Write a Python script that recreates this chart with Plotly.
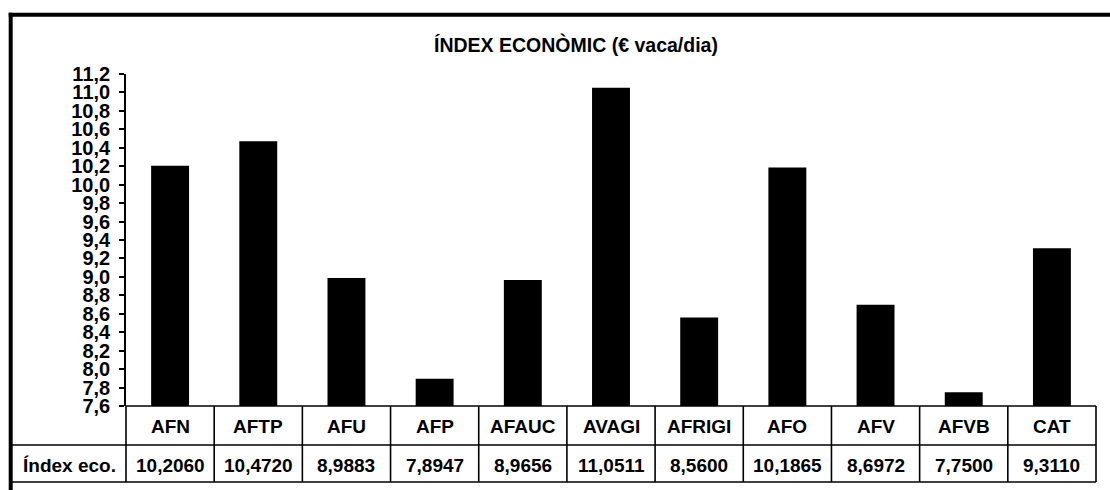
import plotly.graph_objects as go

categories = ["AFN", "AFTP", "AFU", "AFP", "AFAUC", "AVAGI", "AFRIGI", "AFO", "AFV", "AFVB", "CAT"]
values = [10.2060, 10.4720, 8.9883, 7.8947, 8.9656, 11.0511, 8.5600, 10.1865, 8.6972, 7.7500, 9.3110]
row_label = "Índex eco."
title_text = "ÍNDEX ECONÒMIC (€ vaca/dia)"
y_range = [7.6, 11.2]
y_step = 0.2

W, H = 1110, 490
L, R, T, B = 126, 1096, 74, 406  # plot area in pixels
FONT = "Liberation Sans, Arial, sans-serif"


def px_x(px):
    return (px - L) / (R - L)


def px_y(py):
    return (B - py) / (B - T)


fig = go.Figure()
fig.add_trace(go.Bar(
    x=categories, y=values, width=0.43,
    marker=dict(color="black", line=dict(width=0)),
    hoverinfo="skip",
))

shapes = []
lw = 1.6
n = len(categories)
# table horizontal lines
shapes.append(dict(type="line", xref="paper", yref="paper", x0=0, x1=1,
                   y0=px_y(406), y1=px_y(406), line=dict(color="black", width=lw)))
for yy in (445, 482):
    shapes.append(dict(type="line", xref="paper", yref="paper", x0=px_x(10.7), x1=1,
                       y0=px_y(yy), y1=px_y(yy), line=dict(color="black", width=lw)))
# table vertical lines
for i in range(n + 1):
    xp = i / n
    shapes.append(dict(type="line", xref="paper", yref="paper", x0=xp, x1=xp,
                       y0=px_y(406), y1=px_y(482), line=dict(color="black", width=lw)))
# outer frame (top and left)
shapes.append(dict(type="line", xref="paper", yref="paper", x0=px_x(8.7), x1=px_x(1112),
                   y0=px_y(14.7), y1=px_y(14.7), line=dict(color="black", width=4)))
shapes.append(dict(type="line", xref="paper", yref="paper", x0=px_x(10.7), x1=px_x(10.7),
                   y0=px_y(12.7), y1=px_y(495), line=dict(color="black", width=4)))

annotations = []
tfont = dict(family=FONT, size=19, color="black", weight="bold")
for c, v in zip(categories, values):
    annotations.append(dict(x=c, xref="x", y=px_y(426), yref="paper", text=c,
                            showarrow=False, font=tfont, xanchor="center", yanchor="middle"))
    annotations.append(dict(x=c, xref="x", y=px_y(465), yref="paper",
                            text=f"{v:.4f}".replace(".", ","),
                            showarrow=False, font=tfont, xanchor="center", yanchor="middle"))
annotations.append(dict(x=px_x(69), xref="paper", y=px_y(465), yref="paper", text=row_label,
                        showarrow=False, font=tfont, xanchor="center", yanchor="middle"))
annotations.append(dict(x=px_x(575.5), xref="paper", y=px_y(44), yref="paper", text=title_text,
                        showarrow=False, font=dict(family=FONT, size=19.5, color="black", weight="bold"),
                        xanchor="center", yanchor="middle"))

fig.update_layout(
    width=W, height=H,
    margin=dict(l=L, r=W - R, t=T, b=H - B, pad=0),
    paper_bgcolor="white", plot_bgcolor="white",
    separators=",.",
    showlegend=False,
    bargap=0.57,
    shapes=shapes,
    annotations=annotations,
    font=dict(family=FONT, color="black"),
)
fig.update_yaxes(
    range=y_range, tick0=y_range[0], dtick=y_step, tickformat=".1f",
    showgrid=False, zeroline=False,
    showline=True, linecolor="black", linewidth=1.6,
    ticks="outside", ticklen=5, tickwidth=1.6, tickcolor="black",
    tickfont=dict(family=FONT, size=20, color="black", weight="bold"),
    ticklabelstandoff=5,
)
fig.update_xaxes(
    range=[-0.5, n - 0.5], showticklabels=False, showgrid=False, zeroline=False,
    showline=False, ticks="",
)

fig.write_html("out.html", config={"displayModeBar": False},
               post_script="document.body.style.margin='0';document.body.style.overflow='hidden';")
